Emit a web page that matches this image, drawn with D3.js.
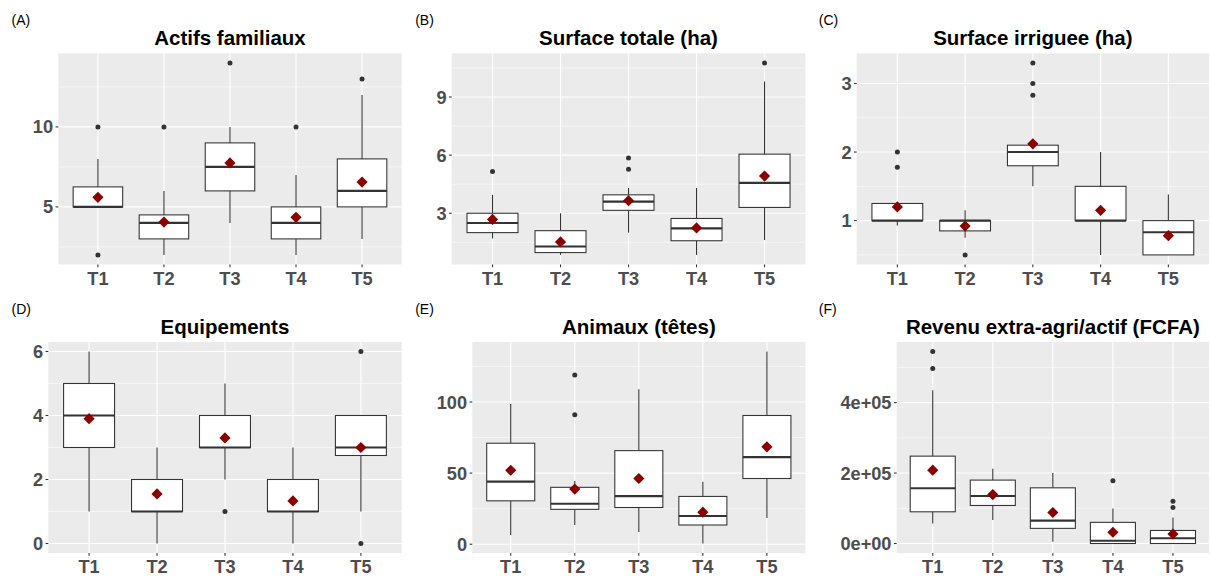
<!DOCTYPE html>
<html>
<head>
<meta charset="utf-8">
<script src="https://cdn.jsdelivr.net/npm/d3@7"></script>
<style>
  html, body { margin: 0; padding: 0; background: #fff; }
  svg { display: block; font-family: "Liberation Sans", Arial, sans-serif; }
</style>
</head>
<body>
<svg id="chart" width="1211" height="577"></svg>
<script>
// ---------- DATA ----------
const categories = ["T1", "T2", "T3", "T4", "T5"];

// each box: [lower whisker, Q1, median, Q3, upper whisker]
const actifsBox = [[5, 5, 5, 6.25, 8], [2, 3, 4, 4.5, 6], [4, 6, 7.5, 9, 10], [2, 3, 4, 5, 7], [3, 5, 6, 8, 12]];
const actifsMean = [5.6, 4.05, 7.75, 4.35, 6.55];
const actifsOut = [[10, 2], [10], [14], [10], [13]];
const actifsTicks = [5, 10];
const actifsTickLabels = ["5", "10"];

const surfTotBox = [[1.7, 2.0, 2.5, 3.0, 3.95], [0.85, 0.97, 1.28, 2.1, 3.0], [2.0, 3.15, 3.6, 3.95, 4.3], [0.85, 1.58, 2.22, 2.73, 4.3], [1.62, 3.3, 4.57, 6.05, 9.8]];
const surfTotMean = [2.68, 1.52, 3.65, 2.24, 4.92];
const surfTotOut = [[5.15], [], [5.27, 5.85], [], [10.76]];
const surfTotTicks = [3, 6, 9];
const surfTotTickLabels = ["3", "6", "9"];

const surfIrrBox = [[0.93, 1.0, 1.0, 1.25, 1.25], [0.75, 0.85, 1.0, 1.0, 1.15], [1.5, 1.8, 2.0, 2.1, 2.1], [0.5, 1.0, 1.0, 1.5, 2.0], [0.5, 0.5, 0.83, 1.0, 1.38]];
const surfIrrMean = [1.2, 0.92, 2.12, 1.15, 0.78];
const surfIrrOut = [[1.78, 2.0], [0.5], [2.83, 3.0, 3.3], [], []];
const surfIrrTicks = [1, 2, 3];
const surfIrrTickLabels = ["1", "2", "3"];

const equipBox = [[1, 3, 4, 5, 6], [0, 1, 1, 2, 3], [2, 3, 3, 4, 5], [0, 1, 1, 2, 3], [1, 2.75, 3, 4, 4]];
const equipMean = [3.9, 1.55, 3.3, 1.33, 3.0];
const equipOut = [[], [], [1], [], [6, 0]];
const equipTicks = [0, 2, 4, 6];
const equipTickLabels = ["0", "2", "4", "6"];

const animBox = [[6.5, 30.5, 44, 71, 98.5], [13.5, 24.5, 28.5, 40, 44.5], [8.5, 25.8, 33.8, 65.8, 109], [0.5, 13.5, 19.8, 33.6, 44], [18.5, 46.2, 61.2, 90.5, 135.5]];
const animMean = [52, 38.8, 46.2, 22.5, 68.5];
const animOut = [[], [91, 119], [], [], []];
const animTicks = [0, 50, 100];
const animTickLabels = ["0", "50", "100"];

const revenuBox = [[57000, 90000, 157000, 248000, 435000], [67000, 108000, 135000, 180000, 212000], [5000, 43000, 65000, 158000, 200000], [0, 0, 8000, 60000, 99000], [0, 0, 15000, 37000, 74000]];
const revenuMean = [208000, 139000, 88000, 32000, 27000];
const revenuOut = [[497000, 545000], [], [], [178000], [102000, 120000]];
const revenuTicks = [0, 200000, 400000];
const revenuTickLabels = ["0e+00", "2e+05", "4e+05"];

const panelTags = ["(A)", "(B)", "(C)", "(D)", "(E)", "(F)"];
const panelTitles = ["Actifs familiaux", "Surface totale (ha)", "Surface irriguee (ha)", "Equipements", "Animaux (têtes)", "Revenu extra-agri/actif (FCFA)"];

// ---------- LAYOUT ----------
const W = 1211, H = 577;
const subW = W / 3, rowH = 288.6;
const panelLefts = [58.3, 451.7, 856.7, 48.3, 472.3, 896.7];

const panels = [
  { box: actifsBox, mean: actifsMean, out: actifsOut, ticks: actifsTicks, labels: actifsTickLabels },
  { box: surfTotBox, mean: surfTotMean, out: surfTotOut, ticks: surfTotTicks, labels: surfTotTickLabels },
  { box: surfIrrBox, mean: surfIrrMean, out: surfIrrOut, ticks: surfIrrTicks, labels: surfIrrTickLabels },
  { box: equipBox, mean: equipMean, out: equipOut, ticks: equipTicks, labels: equipTickLabels },
  { box: animBox, mean: animMean, out: animOut, ticks: animTicks, labels: animTickLabels },
  { box: revenuBox, mean: revenuMean, out: revenuOut, ticks: revenuTicks, labels: revenuTickLabels }
];

const svg = d3.select("#chart");
const BG = "#EBEBEB", INK = "#333333", AXT = "#4D4D4D";

panels.forEach((p, i) => {
  const col = i % 3, row = Math.floor(i / 3);
  const sx = col * subW, sy = row * rowH;
  const left = panelLefts[i];
  const right = sx + subW - 2;
  const top = sy + 53.3, bottom = sy + 264.5;

  const all = [];
  p.box.forEach(b => all.push(...b));
  p.out.forEach(o => all.push(...o));
  all.push(...p.mean);
  const mn = d3.min(all), mx = d3.max(all), r = mx - mn;
  const y = d3.scaleLinear().domain([mn - 0.05 * r, mx + 0.05 * r]).range([bottom, top]);
  const x = d3.scalePoint().domain(categories).range([left, right]).padding(0.6);
  const bw = x.step() * 0.75;

  const g = svg.append("g");
  g.append("rect").attr("x", left).attr("y", top).attr("width", right - left).attr("height", bottom - top).attr("fill", BG);

  // minor grid (midpoints between major ticks)
  const step = p.ticks[1] - p.ticks[0];
  const minor = [];
  for (let v = p.ticks[0] - step / 2; v <= y.domain()[1]; v += step) {
    if (v >= y.domain()[0]) minor.push(v);
  }
  g.selectAll(".minor").data(minor).join("line")
    .attr("x1", left).attr("x2", right)
    .attr("y1", d => y(d)).attr("y2", d => y(d))
    .attr("stroke", "#fff").attr("stroke-width", 0.55);
  g.selectAll(".major").data(p.ticks).join("line")
    .attr("x1", left).attr("x2", right)
    .attr("y1", d => y(d)).attr("y2", d => y(d))
    .attr("stroke", "#fff").attr("stroke-width", 1.1);
  g.selectAll(".vgrid").data(categories).join("line")
    .attr("x1", d => x(d)).attr("x2", d => x(d))
    .attr("y1", top).attr("y2", bottom)
    .attr("stroke", "#fff").attr("stroke-width", 1.1);

  // boxes
  categories.forEach((c, k) => {
    const b = p.box[k], cx = x(c);
    if (b[4] > b[3]) g.append("line").attr("x1", cx).attr("x2", cx).attr("y1", y(b[4])).attr("y2", y(b[3])).attr("stroke", INK).attr("stroke-width", 1.07);
    if (b[1] > b[0]) g.append("line").attr("x1", cx).attr("x2", cx).attr("y1", y(b[1])).attr("y2", y(b[0])).attr("stroke", INK).attr("stroke-width", 1.07);
    g.append("rect").attr("x", cx - bw / 2).attr("width", bw)
      .attr("y", y(b[3])).attr("height", Math.max(0.01, y(b[1]) - y(b[3])))
      .attr("fill", "#fff").attr("stroke", INK).attr("stroke-width", 1.07);
    g.append("line").attr("x1", cx - bw / 2).attr("x2", cx + bw / 2)
      .attr("y1", y(b[2])).attr("y2", y(b[2]))
      .attr("stroke", INK).attr("stroke-width", 2.1);
    p.out[k].forEach(v => {
      g.append("circle").attr("cx", cx).attr("cy", y(v)).attr("r", 2.5).attr("fill", INK);
    });
  });
  // means (diamonds)
  g.selectAll(".mean").data(categories).join("path")
    .attr("d", (c, k) => {
      const cx = x(c), cy = y(p.mean[k]), s = 5.6;
      return `M${cx},${cy - s}L${cx + s},${cy}L${cx},${cy + s}L${cx - s},${cy}Z`;
    })
    .attr("fill", "#8B0000");

  // y axis ticks + labels
  g.selectAll(".yt").data(p.ticks).join("line")
    .attr("x1", left - 2.75).attr("x2", left)
    .attr("y1", d => y(d)).attr("y2", d => y(d))
    .attr("stroke", INK).attr("stroke-width", 1.07);
  g.selectAll(".yl").data(p.ticks).join("text")
    .attr("x", left - 5.2).attr("y", d => y(d)).attr("dy", "0.36em")
    .attr("text-anchor", "end").attr("font-size", 18.2).attr("font-weight", "bold")
    .attr("fill", AXT).text((d, k) => p.labels[k]);
  // x axis ticks + labels
  g.selectAll(".xt").data(categories).join("line")
    .attr("x1", d => x(d)).attr("x2", d => x(d))
    .attr("y1", bottom).attr("y2", bottom + 2.75)
    .attr("stroke", INK).attr("stroke-width", 1.07);
  g.selectAll(".xl").data(categories).join("text")
    .attr("x", d => x(d)).attr("y", bottom + 20.3)
    .attr("text-anchor", "middle").attr("font-size", 18.2).attr("font-weight", "bold")
    .attr("fill", AXT).text(d => d);

  // title & tag
  g.append("text").attr("x", (left + right) / 2).attr("y", sy + 45)
    .attr("text-anchor", "middle").attr("font-size", 20.5).attr("font-weight", "bold")
    .attr("fill", "#000").text(panelTitles[i]);
  g.append("text").attr("x", sx + 11.5).attr("y", sy + 25.4)
    .attr("font-size", 14).attr("fill", "#000").text(panelTags[i]);
});
</script>
</body>
</html>
